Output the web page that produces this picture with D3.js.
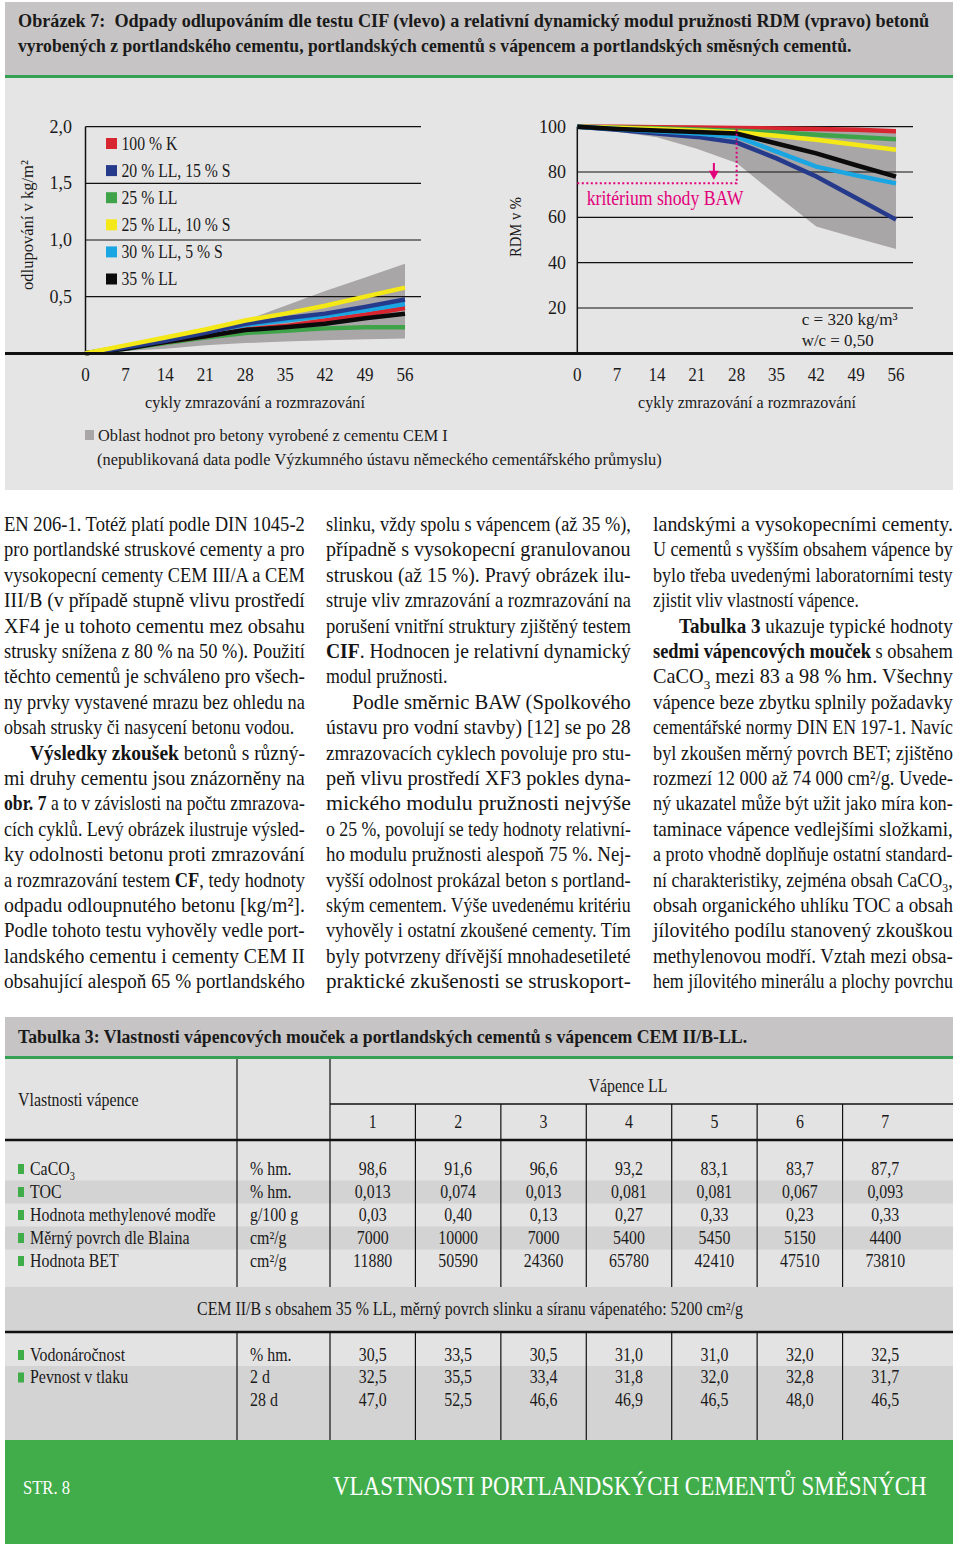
<!DOCTYPE html>
<html><head><meta charset="utf-8">
<script src="https://cdn.jsdelivr.net/npm/d3@7"></script>
<style>
html,body{margin:0;padding:0;background:#fff;}
svg{display:block;font-family:"Liberation Serif","DejaVu Serif",serif;}
text{white-space:pre;}
</style></head><body>
<svg id="c" width="960" height="1544"></svg>
<script>
// ---------------- DATA ----------------
const cycles = [0, 7, 14, 21, 28, 35, 42, 49, 56];
const seriesNames = ["100 % K", "20 % LL, 15 % S", "25 % LL", "25 % LL, 10 % S", "30 % LL, 5 % S", "35 % LL"];
const seriesColors = ["#d7262f", "#263a8c", "#3fa34a", "#f4e816", "#1aa6e2", "#0b0b0b"];
// scaling (kg/m2), left chart
const scalingK      = [0, 0.05, 0.10, 0.15, 0.21, 0.24, 0.29, 0.34, 0.40];
const scalingLL20S15= [0, 0.05, 0.11, 0.18, 0.26, 0.31, 0.35, 0.41, 0.475];
const scalingLL25   = [0, 0.04, 0.09, 0.14, 0.18, 0.20, 0.22, 0.23, 0.23];
const scalingLL25S10= [0, 0.07, 0.14, 0.21, 0.29, 0.35, 0.42, 0.50, 0.58];
const scalingLL30S5 = [0, 0.06, 0.12, 0.19, 0.25, 0.29, 0.33, 0.38, 0.435];
const scalingLL35   = [0, 0.04, 0.10, 0.15, 0.205, 0.23, 0.26, 0.31, 0.35];
const scalingBandLow  = [0, 0.02, 0.04, 0.07, 0.09, 0.105, 0.115, 0.125, 0.13];
const scalingBandHigh = [0, 0.06, 0.13, 0.20, 0.29, 0.42, 0.55, 0.67, 0.79];
// RDM (%), right chart
const rdmK       = [100, 100, 99.8, 99.6, 99.4, 99.2, 99.0, 98.6, 98.0];
const rdmLL20S15 = [100, 98.7, 97.0, 95.5, 93.0, 86.0, 78.0, 68.5, 59.0];
const rdmLL25    = [100, 99.7, 99.3, 98.8, 98.2, 97.5, 96.5, 95.5, 94.5];
const rdmLL25S10 = [100, 99.5, 99.0, 98.3, 97.5, 96.0, 94.2, 92.0, 89.8];
const rdmLL30S5  = [100, 99.0, 98.0, 97.0, 95.6, 89.0, 82.4, 78.5, 75.0];
const rdmLL35    = [100, 99.0, 98.3, 97.7, 97.0, 92.6, 88.2, 83.0, 78.0];
const rdmBandLow  = [100, 97.8, 95.3, 90.3, 84.0, 69.7, 56.0, 50.9, 46.0];
const rdmBandHigh = [100, 100, 100, 100, 99.8, 99.6, 99.4, 99.2, 99.0];
const leftYTicks = [0.5, 1.0, 1.5, 2.0];
const leftYTickLabels = ["0,5", "1,0", "1,5", "2,0"];
const rightYTicks = [20, 40, 60, 80, 100];
const xTickLabels = ["0", "7", "14", "21", "28", "35", "42", "49", "56"];
const bawLimit = 75, bawCycle = 28, bawArrowCycle = 24;

const titleLines = ["Obrázek 7:  Odpady odlupováním dle testu CIF (vlevo) a relativní dynamický modul pružnosti RDM (vpravo) betonů",
  "vyrobených z portlandského cementu, portlandských cementů s vápencem a portlandských směsných cementů."];
const leftYTitle = "odlupování v kg/m²";
const rightYTitle = "RDM v %";
const xTitle = "cykly zmrazování a rozmrazování";
const bawLabel = "kritérium shody BAW";
const mixNote = ["c = 320 kg/m³", "w/c = 0,50"];
const bandNote = ["Oblast hodnot pro betony vyrobené z cementu CEM I",
  "(nepublikovaná data podle Výzkumného ústavu německého cementářského průmyslu)"];

// body text: ">" = paragraph indent, "|" = last line (not justified), **bold**, {sub}
const col1Lines = [
"EN 206-1. Totéž platí podle DIN 1045-2",
"pro portlandské struskové cementy a pro",
"vysokopecní cementy CEM III/A a CEM",
"III/B (v případě stupně vlivu prostředí",
"XF4 je u tohoto cementu mez obsahu",
"strusky snížena z 80 % na 50 %). Použití",
"těchto cementů je schváleno pro všech-",
"ny prvky vystavené mrazu bez ohledu na",
"obsah strusky či nasycení betonu vodou.|",
">**Výsledky zkoušek** betonů s různý-",
"mi druhy cementu jsou znázorněny na",
"**obr. 7** a to v závislosti na počtu zmrazova-",
"cích cyklů. Levý obrázek ilustruje výsled-",
"ky odolnosti betonu proti zmrazování",
"a rozmrazování testem **CF**, tedy hodnoty",
"odpadu odloupnutého betonu [kg/m²].",
"Podle tohoto testu vyhověly vedle port-",
"landského cementu i cementy CEM II",
"obsahující alespoň 65 % portlandského"];
const col2Lines = [
"slinku, vždy spolu s vápencem (až 35 %),",
"případně s vysokopecní granulovanou",
"struskou (až 15 %). Pravý obrázek ilu-",
"struje vliv zmrazování a rozmrazování na",
"porušení vnitřní struktury zjištěný testem",
"**CIF**. Hodnocen je relativní dynamický",
"modul pružnosti.|",
">Podle směrnic BAW (Spolkového",
"ústavu pro vodní stavby) [12] se po 28",
"zmrazovacích cyklech povoluje pro stu-",
"peň vlivu prostředí XF3 pokles dyna-",
"mického modulu pružnosti nejvýše",
"o 25 %, povolují se tedy hodnoty relativní-",
"ho modulu pružnosti alespoň 75 %. Nej-",
"vyšší odolnost prokázal beton s portland-",
"ským cementem. Výše uvedenému kritériu",
"vyhověly i ostatní zkoušené cementy. Tím",
"byly potvrzeny dřívější mnohadesetileté",
"praktické zkušenosti se struskoport-"];
const col3Lines = [
"landskými a vysokopecními cementy.",
"U cementů s vyšším obsahem vápence by",
"bylo třeba uvedenými laboratorními testy",
"zjistit vliv vlastností vápence.|",
">**Tabulka 3** ukazuje typické hodnoty",
"**sedmi vápencových mouček** s obsahem",
"CaCO{3} mezi 83 a 98 % hm. Všechny",
"vápence beze zbytku splnily požadavky",
"cementářské normy DIN EN 197-1. Navíc",
"byl zkoušen měrný povrch BET; zjištěno",
"rozmezí 12 000 až 74 000 cm²/g. Uvede-",
"ný ukazatel může být užit jako míra kon-",
"taminace vápence vedlejšími složkami,",
"a proto vhodně doplňuje ostatní standard-",
"ní charakteristiky, zejména obsah CaCO{3},",
"obsah organického uhlíku TOC a obsah",
"jílovitého podílu stanovený zkouškou",
"methylenovou modří. Vztah mezi obsa-",
"hem jílovitého minerálu a plochy povrchu"];

const tableTitle = "Tabulka 3: Vlastnosti vápencových mouček a portlandských cementů s vápencem CEM II/B-LL.";
const tableHeadLabel = "Vlastnosti vápence";
const tableGroup = "Vápence LL";
const tblCols = ["1", "2", "3", "4", "5", "6", "7"];
const rowLabels1 = ["CaCO{3}", "TOC", "Hodnota methylenové modře", "Měrný povrch dle Blaina", "Hodnota BET"];
const rowUnits1 = ["% hm.", "% hm.", "g/100 g", "cm²/g", "cm²/g"];
const rowVals1 = [
  ["98,6", "91,6", "96,6", "93,2", "83,1", "83,7", "87,7"],
  ["0,013", "0,074", "0,013", "0,081", "0,081", "0,067", "0,093"],
  ["0,03", "0,40", "0,13", "0,27", "0,33", "0,23", "0,33"],
  ["7000", "10000", "7000", "5400", "5450", "5150", "4400"],
  ["11880", "50590", "24360", "65780", "42410", "47510", "73810"]];
const cemNote = "CEM II/B s obsahem 35 % LL, měrný povrch slinku a síranu vápenatého: 5200 cm²/g";
const rowLabels2 = ["Vodonáročnost", "Pevnost v tlaku", ""];
const rowUnits2 = ["% hm.", "2 d", "28 d"];
const rowVals2 = [
  ["30,5", "33,5", "30,5", "31,0", "31,0", "32,0", "32,5"],
  ["32,5", "35,5", "33,4", "31,8", "32,0", "32,8", "31,7"],
  ["47,0", "52,5", "46,6", "46,9", "46,5", "48,0", "46,5"]];
const footerLeft = "STR. 8";
const footerRight = "VLASTNOSTI PORTLANDSKÝCH CEMENTŮ SMĚSNÝCH";

// ---------------- HELPERS ----------------
const svg = d3.select("#c");
// horizontal condensing of a text around its anchor point (emulates a condensed typeface)
function condense(node, k) {
  const x = +node.getAttribute("x") || 0, y = +node.getAttribute("y") || 0;
  const pre = node.getAttribute("transform") || "";
  node.setAttribute("transform", `${pre} translate(${x},${y}) scale(${k.toFixed(4)},1) translate(${-x},${-y})`);
}
function sq(sel, k) { sel.each(function () { condense(this, k); }); return sel; }
function fitW(sel, w) {
  sel.each(function () { const nat = this.getComputedTextLength(); condense(this, w / nat); });
  return sel;
}
function rich(t, str, fs) {
  const parts = str.split(/(\*\*[^*]+\*\*|\{[^}]+\})/).filter(s => s.length);
  if (parts.length === 1 && !parts[0].startsWith("{") && !parts[0].startsWith("**")) { t.text(parts[0]); return t; }
  let back = 0;
  parts.forEach(p => {
    let ts;
    if (p.startsWith("**")) ts = t.append("tspan").attr("font-weight", "bold").text(p.slice(2, -2));
    else if (p.startsWith("{")) {
      t.append("tspan").attr("dy", fs * 0.25 - back).attr("font-size", fs * 0.65).text(p.slice(1, -1));
      back = fs * 0.25;
      return;
    } else ts = t.append("tspan").text(p);
    if (back) { ts.attr("dy", -back); back = 0; }
  });
  return t;
}
function txt(g, x, y, s, fs, opts = {}) {
  const t = g.append("text").attr("x", x).attr("y", y).attr("font-size", fs)
    .attr("fill", opts.fill || "#1a1a1a");
  if (opts.anchor) t.attr("text-anchor", opts.anchor);
  if (opts.bold) t.attr("font-weight", "bold");
  rich(t, s, fs);
  return t;
}

// ---------------- BACKGROUNDS ----------------
svg.append("rect").attr("x", 5).attr("y", 2).attr("width", 948).attr("height", 73).attr("fill", "#c6c4c4");
svg.append("rect").attr("x", 5).attr("y", 75).attr("width", 948).attr("height", 3).attr("fill", "#35a054");
svg.append("rect").attr("x", 5).attr("y", 78).attr("width", 948).attr("height", 412).attr("fill", "#e6e5e5");

titleLines.forEach((s, i) => fitW(txt(svg, 18, 27 + i * 25, s, 19.5, { bold: true }), i === 0 ? 912 : 834));

// ---------------- LEFT CHART ----------------
const xL = d3.scaleLinear().domain([0, 56]).range([85.5, 405]);
const yL = d3.scaleLinear().domain([0, 2]).range([353.3, 126.7]);
const gLc = svg.append("g");
gLc.append("path")
  .datum(cycles.map((c, i) => ({ c, lo: scalingBandLow[i], hi: scalingBandHigh[i] })))
  .attr("d", d3.area().x(d => xL(d.c)).y0(d => yL(d.lo)).y1(d => yL(d.hi)))
  .attr("fill", "#a8a6a6");
leftYTicks.forEach((v, i) => {
  gLc.append("line").attr("x1", xL(0)).attr("x2", xL(56) + 16).attr("y1", yL(v)).attr("y2", yL(v))
    .attr("stroke", "#111").attr("stroke-width", 1.2);
  txt(gLc, 72, yL(v) + 6, leftYTickLabels[i], 18, { anchor: "end" });
});
gLc.append("line").attr("x1", xL(0)).attr("x2", xL(0)).attr("y1", yL(2)).attr("y2", yL(0))
  .attr("stroke", "#111").attr("stroke-width", 1.5);
const leftSeries = [scalingK, scalingLL20S15, scalingLL25, scalingLL25S10, scalingLL30S5, scalingLL35];
const lineL = d3.line().x((d, i) => xL(cycles[i])).y(d => yL(d));
[2, 0, 5, 4, 1, 3].forEach(si => {
  gLc.append("path").attr("d", lineL(leftSeries[si])).attr("fill", "none")
    .attr("stroke", seriesColors[si]).attr("stroke-width", 4.5);
});
// legend
seriesNames.forEach((n, i) => {
  const cy = 143.5 + i * 27.1;
  gLc.append("rect").attr("x", 106).attr("y", cy - 5.5).attr("width", 11).attr("height", 11).attr("fill", seriesColors[i]);
  sq(txt(gLc, 121.5, cy + 6.5, n, 18.5), 0.85);
});
xTickLabels.forEach((s, i) => sq(txt(gLc, xL(cycles[i]), 381, s, 18, { anchor: "middle" }), 0.95));
fitW(txt(gLc, 255, 408, xTitle, 17.5, { anchor: "middle" }), 220);
fitW(txt(gLc, 0, 0, leftYTitle, 17.5, { anchor: "middle" }).attr("transform", "translate(33,225) rotate(-90)"), 130);

// ---------------- RIGHT CHART ----------------
const xR = d3.scaleLinear().domain([0, 56]).range([577.3, 896]);
const yR = d3.scaleLinear().domain([0, 100]).range([353.3, 126.7]);
const gRc = svg.append("g");
gRc.append("path")
  .datum(cycles.map((c, i) => ({ c, lo: rdmBandLow[i], hi: rdmBandHigh[i] })))
  .attr("d", d3.area().x(d => xR(d.c)).y0(d => yR(d.lo)).y1(d => yR(d.hi)))
  .attr("fill", "#a8a6a6");
rightYTicks.forEach(v => {
  gRc.append("line").attr("x1", xR(0)).attr("x2", xR(56) + 17).attr("y1", yR(v)).attr("y2", yR(v))
    .attr("stroke", "#111").attr("stroke-width", 1.2);
  txt(gRc, 566, yR(v) + 6, String(v), 18, { anchor: "end" });
});
gRc.append("line").attr("x1", xR(0)).attr("x2", xR(0)).attr("y1", yR(100)).attr("y2", yR(0))
  .attr("stroke", "#111").attr("stroke-width", 1.5);
const rightSeries = [rdmK, rdmLL20S15, rdmLL25, rdmLL25S10, rdmLL30S5, rdmLL35];
const lineR = d3.line().x((d, i) => xR(cycles[i])).y(d => yR(d));
[0, 2, 3, 1, 4, 5].forEach(si => {
  gRc.append("path").attr("d", lineR(rightSeries[si])).attr("fill", "none")
    .attr("stroke", seriesColors[si]).attr("stroke-width", 4.5);
});
// BAW criterion
const mag = "#e2007a";
gRc.append("path")
  .attr("d", `M${xR(0)},${yR(bawLimit)}H${xR(bawCycle)}V${yR(100)}`)
  .attr("fill", "none").attr("stroke", mag).attr("stroke-width", 2).attr("stroke-dasharray", "2,2.5");
gRc.append("line").attr("x1", xR(bawArrowCycle)).attr("x2", xR(bawArrowCycle))
  .attr("y1", yR(84)).attr("y2", yR(78.5)).attr("stroke", mag).attr("stroke-width", 2);
const ax = xR(bawArrowCycle), ay = yR(76.6);
gRc.append("path").attr("d", `M${ax - 5},${ay - 9}L${ax + 5},${ay - 9}L${ax},${ay}Z`).attr("fill", mag);
fitW(txt(gRc, 586.7, 205, bawLabel, 20, { fill: mag }), 157);
fitW(txt(gRc, 801.7, 325, mixNote[0], 17.5), 96);
fitW(txt(gRc, 801.7, 346, mixNote[1], 17.5), 72);
xTickLabels.forEach((s, i) => sq(txt(gRc, xR(cycles[i]), 381, s, 18, { anchor: "middle" }), 0.95));
fitW(txt(gRc, 747, 408, xTitle, 17.5, { anchor: "middle" }), 218);
fitW(txt(gRc, 0, 0, rightYTitle, 17.5, { anchor: "middle" }).attr("transform", "translate(521,227) rotate(-90)"), 60);

// common baseline
svg.append("line").attr("x1", 5).attr("x2", 953).attr("y1", 353.5).attr("y2", 353.5)
  .attr("stroke", "#111").attr("stroke-width", 3);

// band legend
svg.append("rect").attr("x", 85).attr("y", 430).attr("width", 9).attr("height", 10).attr("fill", "#a8a6a6");
fitW(txt(svg, 98, 441, bandNote[0], 17.5), 350);
fitW(txt(svg, 97, 465, bandNote[1], 17.5), 565);

// ---------------- BODY TEXT ----------------
const cols = [{ lines: col1Lines, x0: 4, x1: 305 }, { lines: col2Lines, x0: 326, x1: 631 }, { lines: col3Lines, x0: 653, x1: 953 }];
const bfs = 20.5, indent = 26;
cols.forEach(col => {
  const items = col.lines.map((raw, i) => {
    let s = raw, ind = false, last = false;
    if (s.startsWith(">")) { ind = true; s = s.slice(1); }
    if (s.endsWith("|")) { last = true; s = s.slice(0, -1); }
    const x = col.x0 + (ind ? indent : 0);
    const t = txt(svg, x, 531 + i * 25.4, s, bfs, { fill: "#141414" });
    return { t, x, last, w: t.node().getComputedTextLength() };
  });
  const ratios = items.filter(d => !d.last).map(d => (col.x1 - d.x) / d.w).sort((a, b) => a - b);
  const k = ratios[Math.floor(ratios.length / 2)] * 0.94;
  items.forEach(d => {
    const target = d.last ? d.w * k : col.x1 - d.x;
    condense(d.t.node(), target / d.w);
  });
});

// ---------------- TABLE ----------------
const tb = svg.append("g");
tb.append("rect").attr("x", 5).attr("y", 1017).attr("width", 948).attr("height", 39).attr("fill", "#c6c4c4");
tb.append("rect").attr("x", 5).attr("y", 1056).attr("width", 948).attr("height", 3).attr("fill", "#35a054");
tb.append("rect").attr("x", 5).attr("y", 1059).attr("width", 948).attr("height", 381).attr("fill", "#e4e3e3");
const band = "#d4d3d3";
const rowY1 = d3.scaleLinear().domain([0, 4]).range([1169, 1261]);
const rowY2 = d3.scaleLinear().domain([0, 2]).range([1355, 1400]);
[1, 3].forEach(r => tb.append("rect").attr("x", 5).attr("y", rowY1(r) - 11.5).attr("width", 948).attr("height", 23).attr("fill", band));
tb.append("rect").attr("x", 5).attr("y", 1287).attr("width", 948).attr("height", 44).attr("fill", band);
tb.append("rect").attr("x", 5).attr("y", rowY2(0) + 11).attr("width", 948).attr("height", 1440 - rowY2(0) - 11).attr("fill", band);

fitW(txt(tb, 18, 1043, tableTitle, 19.5, { bold: true }), 730);

const xc = d3.scaleBand().domain(tblCols).range([330, 928]);
const vline = (x, y1, y2) => tb.append("line").attr("x1", x).attr("x2", x).attr("y1", y1).attr("y2", y2)
  .attr("stroke", "#111").attr("stroke-width", 1.2);
vline(237, 1059, 1287); vline(330, 1059, 1287);
tblCols.slice(1).forEach(c => vline(xc(c), 1104, 1287));
vline(237, 1332, 1440); vline(330, 1332, 1440);
tblCols.slice(1).forEach(c => vline(xc(c), 1332, 1440));
tb.append("line").attr("x1", 330).attr("x2", 953).attr("y1", 1104).attr("y2", 1104).attr("stroke", "#111").attr("stroke-width", 1.5);
tb.append("line").attr("x1", 5).attr("x2", 953).attr("y1", 1140).attr("y2", 1140).attr("stroke", "#111").attr("stroke-width", 2.5);
tb.append("line").attr("x1", 5).attr("x2", 953).attr("y1", 1332).attr("y2", 1332).attr("stroke", "#111").attr("stroke-width", 2.5);

const tfs = 18.5, tk = 0.86;
sq(txt(tb, 18, 1106, tableHeadLabel, tfs), tk);
sq(txt(tb, 628, 1092, tableGroup, tfs, { anchor: "middle" }), tk);
tblCols.forEach(c => sq(txt(tb, xc(c) + xc.bandwidth() / 2, 1128, c, tfs, { anchor: "middle" }), tk));
const green = "#3fae49";
rowLabels1.forEach((l, r) => {
  const y = rowY1(r);
  tb.append("rect").attr("x", 18).attr("y", y - 5).attr("width", 6).attr("height", 10).attr("fill", green);
  sq(txt(tb, 30, y + 6, l, tfs), tk);
  sq(txt(tb, 250, y + 6, rowUnits1[r], tfs), tk);
  rowVals1[r].forEach((v, ci) => sq(txt(tb, xc(tblCols[ci]) + xc.bandwidth() / 2, y + 6, v, tfs, { anchor: "middle" }), tk));
});
sq(txt(tb, 470, 1315, cemNote, tfs, { anchor: "middle" }), tk);
rowLabels2.forEach((l, r) => {
  const y = rowY2(r);
  if (l) {
    tb.append("rect").attr("x", 18).attr("y", y - 5).attr("width", 6).attr("height", 10).attr("fill", green);
    sq(txt(tb, 30, y + 6, l, tfs), tk);
  }
  sq(txt(tb, 250, y + 6, rowUnits2[r], tfs), tk);
  rowVals2[r].forEach((v, ci) => sq(txt(tb, xc(tblCols[ci]) + xc.bandwidth() / 2, y + 6, v, tfs, { anchor: "middle" }), tk));
});

// ---------------- FOOTER ----------------
svg.append("rect").attr("x", 5).attr("y", 1440).attr("width", 948).attr("height", 104).attr("fill", "#40ad4a");
fitW(txt(svg, 23, 1494, footerLeft, 19, { fill: "#fff" }), 47);
fitW(txt(svg, 333, 1495, footerRight, 27, { fill: "#fff" }), 594);
</script></body></html>
